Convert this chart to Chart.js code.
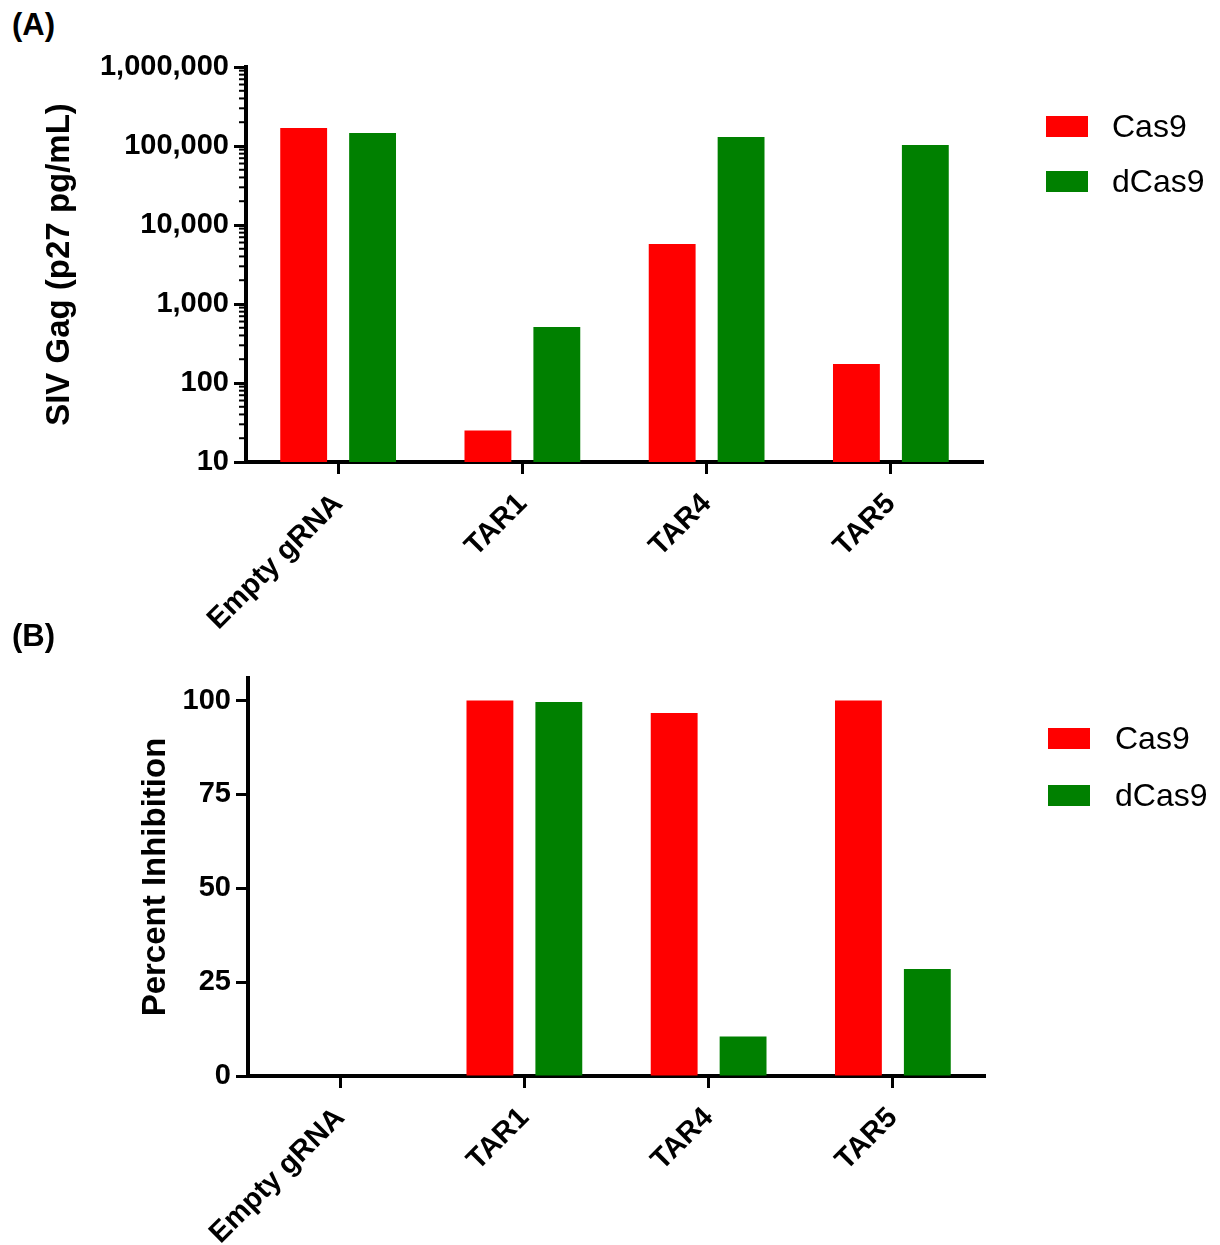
<!DOCTYPE html>
<html lang="en">

<head>
    <meta charset="utf-8" />
    <title>SIV Gag and percent inhibition</title>
    <style>
        body {
            margin: 0;
            background: #fff;
        }

        #page {
            position: relative;
            width: 1220px;
            height: 1245px;
            font-family: "Liberation Sans", Arial, Helvetica, sans-serif;
            color: #000;
        }

        .panel {
            position: absolute;
            left: 12px;
            font-size: 31px;
            line-height: 31px;
            font-weight: bold;
        }

        canvas {
            position: absolute;
            left: 0;
        }

        .key {
            position: absolute;
            width: 42px;
            height: 21px;
        }

        .key-text {
            position: absolute;
            font-size: 32px;
            line-height: 32px;
        }
    </style>
</head>

<body>
    <div id="page">
        <div class="panel" style="top:9px">(A)</div>
        <canvas id="chartA" width="1220" height="660" style="top:0"></canvas>

        <div class="key" style="left:1046px;top:116px;background:#ff0000"></div>
        <div class="key-text" style="left:1112px;top:110px">Cas9</div>
        <div class="key" style="left:1046px;top:171px;background:#008000"></div>
        <div class="key-text" style="left:1112px;top:165px">dCas9</div>

        <div class="panel" style="top:620px">(B)</div>
        <canvas id="chartB" width="1220" height="625" style="top:620px"></canvas>

        <div class="key" style="left:1048px;top:728px;background:#ff0000"></div>
        <div class="key-text" style="left:1115px;top:722px">Cas9</div>
        <div class="key" style="left:1048px;top:785px;background:#008000"></div>
        <div class="key-text" style="left:1115px;top:779px">dCas9</div>
    </div>

    <script src="https://cdn.jsdelivr.net/npm/chart.js@4.4.1/dist/chart.umd.min.js"></script>

    <script>
        // categories and series
        const categories = ['Empty gRNA', 'TAR1', 'TAR4', 'TAR5'];
        const seriesNames = ['Cas9', 'dCas9'];
        const seriesColors = ['#ff0000', '#008000'];

        // (A) SIV Gag, p27 pg/mL (log axis)
        const gagCas9 = [169000, 25, 5750, 174];
        const gagDCas9 = [146000, 512, 130000, 103000];
        const gagTicks = [10, 100, 1000, 10000, 100000, 1000000];

        // (B) percent inhibition
        const inhCas9 = [0, 100, 96.7, 100];
        const inhDCas9 = [0, 99.6, 10.5, 28.5];
        const inhTicks = [0, 25, 50, 75, 100];

        const FONT = '"Liberation Sans", Arial, Helvetica, sans-serif';
        Chart.defaults.font.family = FONT;
        Chart.defaults.color = '#000';

        function makeDatasets(a, b) {
            return [{
                label: seriesNames[0],
                data: a,
                backgroundColor: seriesColors[0],
                borderWidth: 0,
                categoryPercentage: 0.748,
                barPercentage: 0.68
            }, {
                label: seriesNames[1],
                data: b,
                backgroundColor: seriesColors[1],
                borderWidth: 0,
                categoryPercentage: 0.748,
                barPercentage: 0.68
            }];
        }

        function xAxis(height) {
            return {
                grid: {
                    drawOnChartArea: false,
                    offset: false,
                    tickLength: 12,
                    tickWidth: 3,
                    color: '#000'
                },
                border: { color: '#000', width: 4 },
                ticks: {
                    color: '#000',
                    font: { size: 29, weight: 'bold' },
                    minRotation: 45,
                    maxRotation: 45,
                    autoSkip: false,
                    padding: 13,
                    labelOffset: 0
                },
                afterFit: (s) => { s.height = height; }
            };
        }

        // short minor ticks on the log axis (2..9 of every decade)
        const minorTicks = {
            id: 'minorTicks',
            afterDraw(chart) {
                const y = chart.scales.y;
                const ctx = chart.ctx;
                ctx.save();
                ctx.strokeStyle = '#000';
                ctx.lineWidth = 2;
                for (let i = 0; i < gagTicks.length - 1; i++) {
                    for (let k = 2; k <= 9; k++) {
                        const py = y.getPixelForValue(gagTicks[i] * k);
                        ctx.beginPath();
                        ctx.moveTo(y.right - 7, py);
                        ctx.lineTo(y.right, py);
                        ctx.stroke();
                    }
                }
                ctx.restore();
            }
        };

        /** (A) 로그 막대 그래프 */
        new Chart(document.getElementById('chartA'), {
            type: 'bar',
            data: {
                labels: categories,
                datasets: makeDatasets(gagCas9, gagDCas9)
            },
            options: {
                responsive: false,
                animation: false,
                devicePixelRatio: 1,
                layout: { padding: { left: 0, top: 67, right: 237, bottom: 0 } },
                plugins: { legend: { display: false }, tooltip: { enabled: false } },
                scales: {
                    x: xAxis(198),
                    y: {
                        type: 'logarithmic',
                        min: 10,
                        max: 1000000,
                        afterBuildTicks: (s) => { s.ticks = gagTicks.map(v => ({ value: v })); },
                        ticks: {
                            color: '#000',
                            font: { size: 29, weight: 'bold' },
                            padding: 5,
                            callback: (v) => Number(v).toLocaleString('en-US')
                        },
                        grid: { drawOnChartArea: false, tickLength: 12, tickWidth: 3, color: '#000' },
                        border: { color: '#000', width: 4 },
                        title: {
                            display: true,
                            text: 'SIV Gag (p27 pg/mL)',
                            color: '#000',
                            font: { size: 33, weight: 'bold', lineHeight: 1 },
                            padding: { top: 43, bottom: 0 }
                        },
                        afterFit: (s) => { s.width = 246; }
                    }
                }
            },
            plugins: [minorTicks]
        });

        /** (B) 억제율 막대 그래프 */
        new Chart(document.getElementById('chartB'), {
            type: 'bar',
            data: {
                labels: categories,
                datasets: makeDatasets(inhCas9, inhDCas9)
            },
            options: {
                responsive: false,
                animation: false,
                devicePixelRatio: 1,
                layout: { padding: { left: 0, top: 58, right: 235, bottom: 0 } },
                plugins: { legend: { display: false }, tooltip: { enabled: false } },
                scales: {
                    x: xAxis(169),
                    y: {
                        min: 0,
                        max: 106,
                        afterBuildTicks: (s) => { s.ticks = inhTicks.map(v => ({ value: v })); },
                        ticks: {
                            color: '#000',
                            font: { size: 29, weight: 'bold' },
                            padding: 5
                        },
                        grid: { drawOnChartArea: false, tickLength: 12, tickWidth: 3, color: '#000' },
                        border: { color: '#000', width: 4 },
                        title: {
                            display: true,
                            text: 'Percent Inhibition',
                            color: '#000',
                            font: { size: 33, weight: 'bold', lineHeight: 1 },
                            padding: { top: 139, bottom: 0 }
                        },
                        afterFit: (s) => { s.width = 248; }
                    }
                }
            }
        });
    </script>
</body>

</html>
